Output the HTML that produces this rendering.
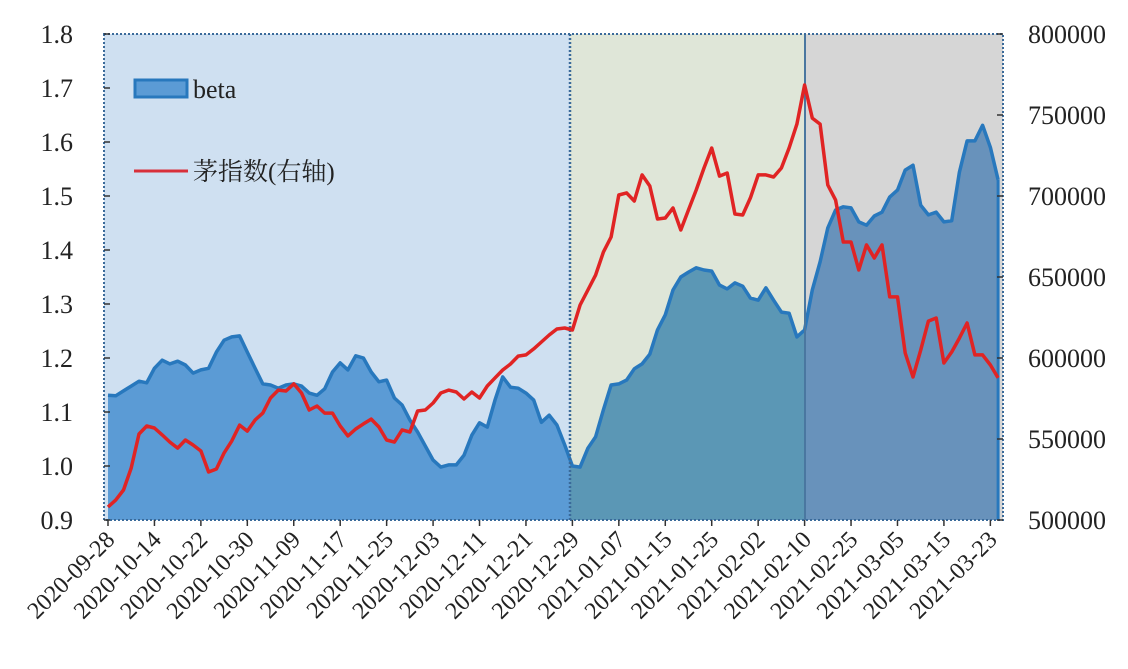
<!DOCTYPE html>
<html><head><meta charset="utf-8"><style>
html,body{margin:0;padding:0;background:#fff;}
svg{display:block;font-family:"Liberation Serif","Noto Serif CJK SC",serif;}
</style></head><body>
<svg id="chart" width="1128" height="669" xmlns="http://www.w3.org/2000/svg">
<defs>
<clipPath id="c1"><rect x="104" y="34" width="466" height="486"/></clipPath>
<clipPath id="c2"><rect x="570" y="34" width="235" height="486"/></clipPath>
<clipPath id="c3"><rect x="805" y="34" width="198" height="486"/></clipPath>
</defs>
<rect x="104" y="34" width="466" height="486" fill="#cfe0f1"/>
<rect x="570" y="34" width="235" height="486" fill="#dfe6d8"/>
<rect x="805" y="34" width="198" height="486" fill="#d6d6d6"/>
<g id="areas"></g>
<line x1="570" y1="34" x2="570" y2="520" stroke="#3a6a9a" stroke-width="2.5" stroke-dasharray="2,2"/>
<line x1="805" y1="34" x2="805" y2="520" stroke="#4a77a0" stroke-width="2"/>
<rect x="104" y="34" width="899" height="486" fill="none" stroke="#3a6a9a" stroke-width="2" stroke-dasharray="2,2"/>
<g id="lines"></g>
<g id="axes"></g>
<g>
<rect x="135" y="80" width="52" height="17" fill="#5b9bd5" stroke="#2878bd" stroke-width="3"/>
<text x="193" y="98" font-size="26" fill="#222">beta</text>
<line x1="134" y1="171" x2="188" y2="171" stroke="#d8303a" stroke-width="3"/>
<text x="193" y="180" font-size="25" fill="#222">茅指数(右轴)</text>
</g>
</svg>
<script>
const categories = ["2020-09-28","2020-10-14","2020-10-22","2020-10-30","2020-11-09","2020-11-17","2020-11-25","2020-12-03","2020-12-11","2020-12-21","2020-12-29","2021-01-07","2021-01-15","2021-01-25","2021-02-02","2021-02-10","2021-02-25","2021-03-05","2021-03-15","2021-03-23"];
const betaValues = [1.131,1.13,1.139,1.148,1.157,1.154,1.181,1.196,1.189,1.194,1.187,1.172,1.178,1.181,1.211,1.233,1.239,1.241,1.211,1.181,1.152,1.15,1.144,1.15,1.152,1.148,1.135,1.131,1.143,1.174,1.191,1.178,1.204,1.2,1.174,1.156,1.159,1.126,1.113,1.085,1.063,1.037,1.011,0.998,1.002,1.002,1.02,1.057,1.08,1.072,1.122,1.165,1.146,1.144,1.135,1.122,1.081,1.094,1.076,1.039,1.0,0.998,1.033,1.054,1.104,1.15,1.152,1.159,1.18,1.189,1.207,1.252,1.28,1.326,1.35,1.359,1.367,1.363,1.361,1.335,1.328,1.339,1.333,1.311,1.307,1.33,1.307,1.285,1.283,1.239,1.252,1.326,1.378,1.441,1.474,1.48,1.478,1.452,1.446,1.463,1.47,1.498,1.511,1.548,1.557,1.483,1.465,1.47,1.452,1.454,1.544,1.602,1.602,1.631,1.59,1.53];
const maoValues = [508000,512300,518500,532100,553100,558000,556800,552500,548100,544400,549400,546300,542600,529600,531500,541400,548800,558600,554900,561700,566000,575300,580200,579600,584000,578400,567900,570400,566000,566000,558000,551900,556200,559300,562300,557400,549400,548100,555600,554300,567300,567900,572200,578400,580200,579000,574700,579000,575300,582700,587700,592600,596300,601200,601900,605600,609900,614200,617900,618500,617300,632700,642000,651200,665400,674700,700600,701900,696900,713000,706200,685800,686400,692600,679000,691400,703700,717300,729600,712300,714200,688900,688300,698800,713000,713000,711700,717300,729600,744400,768500,748100,744400,706800,697500,671600,671600,654300,669800,661700,669800,637700,637700,603100,588300,604900,622800,624700,596900,603700,612300,621600,601900,601900,595700,587700];
const leftTicks = [0.9,1.0,1.1,1.2,1.3,1.4,1.5,1.6,1.7,1.8];
const rightTicks = [500000,550000,600000,650000,700000,750000,800000];
const labelStep = 6;

const NS="http://www.w3.org/2000/svg";
const X0=108, DX=7.74, TOP=34, BOT=520;
function xAt(i){return X0+i*DX;}
function yL(v){return BOT-(v-0.9)/(1.8-0.9)*(BOT-TOP);}
function yR(v){return BOT-(v-500000)/(800000-500000)*(BOT-TOP);}
function mk(tag,attrs,parent){const e=document.createElementNS(NS,tag);for(const k in attrs)e.setAttribute(k,attrs[k]);parent.appendChild(e);return e;}

const areas=document.getElementById('areas');
let pts=betaValues.map((v,i)=>xAt(i).toFixed(1)+','+yL(v).toFixed(1));
const areaD='M'+xAt(0)+','+BOT+' L'+pts.join(' L')+' L'+xAt(betaValues.length-1)+','+BOT+' Z';
const lineD='M'+pts.join(' L');
const fills=[['c1','#5b9bd5'],['c2','#5b97b5'],['c3','#6892bb']];
fills.forEach((f,k)=>{
  const a=mk('path',{d:areaD,fill:f[1],'clip-path':'url(#'+f[0]+')'},areas);
  
  
});
const bl=mk('path',{d:lineD,fill:'none',stroke:'#2878bd','stroke-width':3.5,'stroke-linejoin':'round'},areas);


const be=mk('line',{x1:xAt(betaValues.length-1),y1:yL(betaValues[betaValues.length-1]),x2:xAt(betaValues.length-1),y2:BOT,stroke:'#2878bd','stroke-width':3},areas);



const lines=document.getElementById('lines');
const rd='M'+maoValues.map((v,i)=>xAt(i).toFixed(1)+','+yR(v).toFixed(1)).join(' L');
const rl=mk('path',{d:rd,fill:'none',stroke:'#e02424','stroke-width':3.5,'stroke-linejoin':'round'},lines);



const axes=document.getElementById('axes');
leftTicks.forEach(t=>{
  const y=yL(t);
  const tk=mk('line',{x1:104,y1:y,x2:110,y2:y,stroke:'#333','stroke-width':1.5},axes);
  
  
  const tx=mk('text',{x:73,y:y+9,'font-size':26,'text-anchor':'end',fill:'#222'},axes);
  tx.textContent=t.toFixed(1);
  
  
});
rightTicks.forEach(t=>{
  const y=yR(t);
  const tk=mk('line',{x1:997,y1:y,x2:1003,y2:y,stroke:'#333','stroke-width':1.5},axes);
  
  
  const tx=mk('text',{x:1028,y:y+9,'font-size':26,fill:'#222'},axes);
  tx.textContent=String(t);
  
  
});
categories.forEach((c,k)=>{
  const x=xAt(k*labelStep);
  const tk=mk('line',{x1:x,y1:520,x2:x,y2:526,stroke:'#333','stroke-width':1.5},axes);
  
  
  const tx=mk('text',{x:x+8,y:541,'font-size':24,'text-anchor':'end',fill:'#222',transform:'rotate(-45 '+(x+8)+' 541)'},axes);
  tx.textContent=c;
  
  
});
</script>
</body></html>
